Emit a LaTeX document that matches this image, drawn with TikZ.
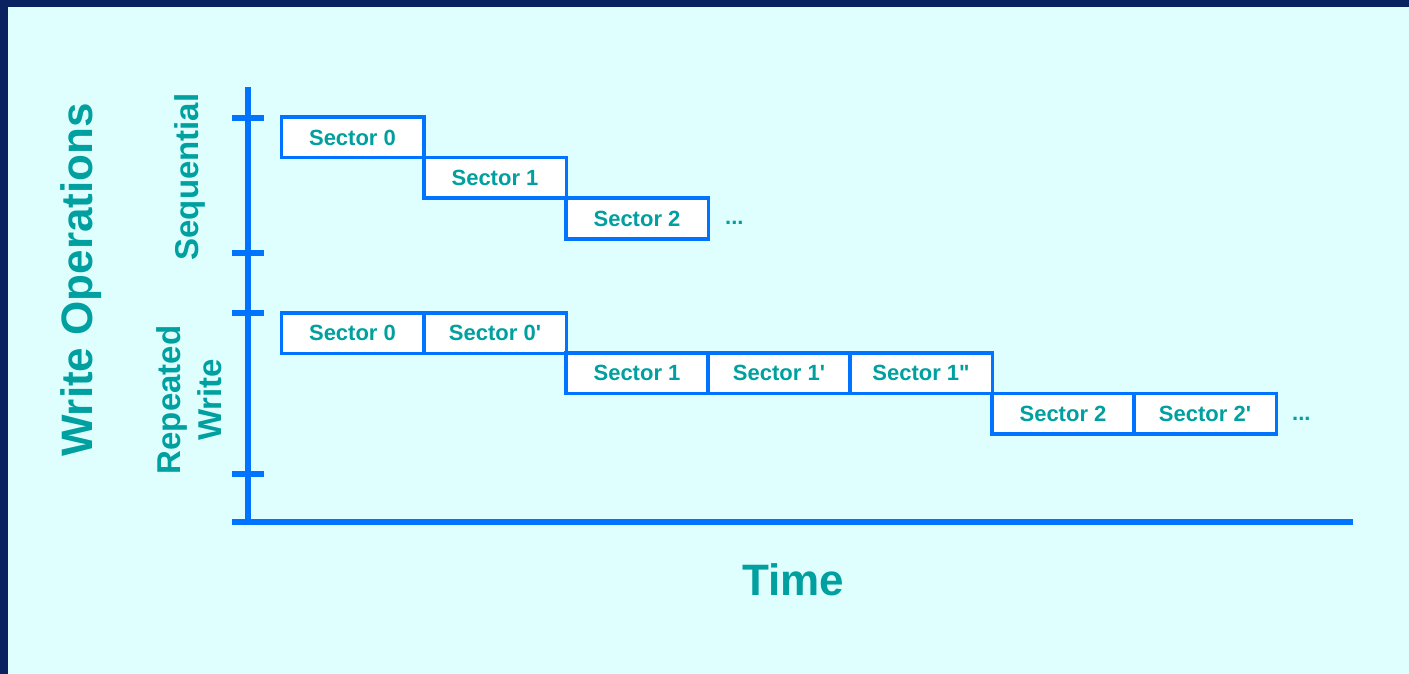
\documentclass[tikz,border=0pt]{standalone}
\usepackage{fontspec}
\setmainfont{Liberation Sans}
\definecolor{pagebg}{HTML}{DFFFFF}
\definecolor{framenavy}{HTML}{0B2260}
\definecolor{axisblue}{HTML}{0073FF}
\definecolor{labelteal}{HTML}{00A0A0}
\tikzset{
  sectorbox/.style={draw=axisblue, fill=white, line width=3.5pt, inner sep=0pt,
    minimum width=142.5pt, minimum height=40.5pt, text=labelteal,
    font=\fontsize{22}{26}\selectfont\bfseries},
  axisline/.style={draw=axisblue, line width=6pt},
  bigtitle/.style={text=labelteal, inner sep=0pt, font=\fontsize{44}{50}\selectfont\bfseries},
  grouplabel/.style={text=labelteal, inner sep=0pt, align=center,
    font=\fontsize{33}{41}\selectfont\bfseries},
  moredots/.style={text=labelteal, inner sep=0pt, font=\fontsize{22}{26}\selectfont\bfseries}
}
\newcommand{\prm}{\textquotesingle}
\begin{document}
\begin{tikzpicture}[x=1pt, y=-1pt]
  % page background and navy frame on top and left
  \fill[framenavy] (0,0) rectangle (1409,674);
  \fill[pagebg] (8,7) rectangle (1409,674);
  \useasboundingbox (0,0) rectangle (1409,674);

  % axes
  \coordinate (ytop) at (247.5,87);
  \coordinate (origin) at (247.5,521.5);
  \coordinate (xleft) at (232,521.5);
  \coordinate (xend) at (1353,521.5);
  \draw[axisline] (ytop) -- (origin);
  \draw[axisline] (xleft) -- (xend);
  \foreach \ty/\tn in {118/ta, 253/tb, 313/tc, 474/td} {
    \coordinate (\tn l) at (232,\ty);
    \coordinate (\tn r) at (264,\ty);
    \draw[axisline] (\tn l) -- (\tn r);
  }

  % axis titles
  \node[bigtitle, rotate=90, anchor=base] (wops) at (92,280) {Write Operations};
  \node[bigtitle, anchor=base] (time) at (793,595) {Time};
  \node[grouplabel, rotate=90, anchor=base] (seq) at (198,177) {Sequential};
  \node[grouplabel, rotate=90, anchor=base] (rep) at (180,400) {Repeated};
  \node[grouplabel, rotate=90, anchor=base] (repw) at (221,400) {Write};

  % sequential writes
  \node[sectorbox] (s0) at (352.5,137.5) {Sector 0};
  \node[sectorbox] (s1) at (495,178) {Sector 1};
  \node[sectorbox] (s2) at (637,218.5) {Sector 2};
  \node[moredots, anchor=base west] (sdots) at (725,225) {...};

  % repeated writes
  \node[sectorbox] (r0) at (352.5,333) {Sector 0};
  \node[sectorbox] (r0p) at (495,333) {Sector 0\prm};
  \node[sectorbox] (r1) at (637,373) {Sector 1};
  \node[sectorbox] (r1p) at (779,373) {Sector 1\prm};
  \node[sectorbox] (r1pp) at (921,373) {Sector 1\textquotedbl};
  \node[sectorbox] (r2) at (1063,413.5) {Sector 2};
  \node[sectorbox] (r2p) at (1205,413.5) {Sector 2\prm};
  \node[moredots, anchor=base west] (rdots) at (1292,420) {...};
\end{tikzpicture}
\end{document}
